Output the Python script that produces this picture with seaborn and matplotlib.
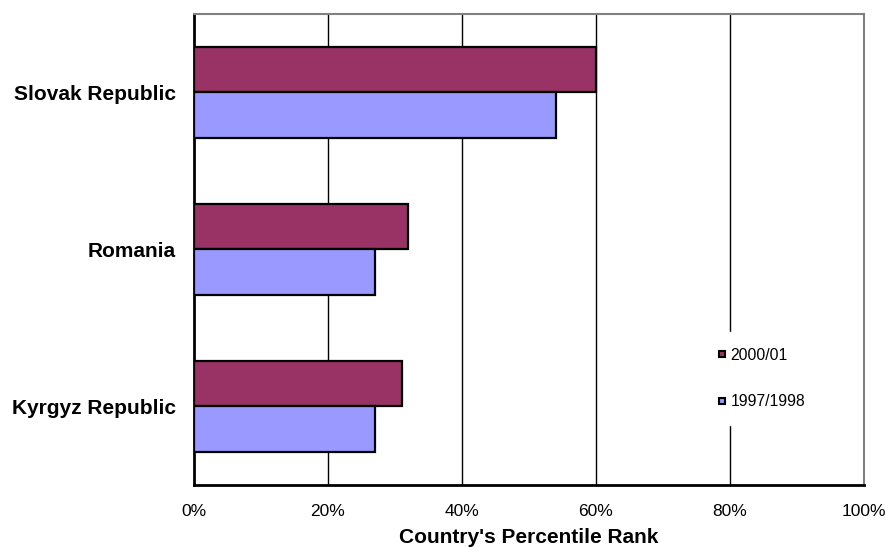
import matplotlib
matplotlib.use("Agg")
import matplotlib.pyplot as plt
from matplotlib.lines import Line2D
from matplotlib.ticker import PercentFormatter
import seaborn as sns
import pandas as pd

countries = ["Slovak Republic", "Romania", "Kyrgyz Republic"]
periods = ["2000/01", "1997/1998"]
rank_2000 = [60, 32, 31]
rank_1997 = [54, 27, 27]
period_colors = {"2000/01": "#993366", "1997/1998": "#9999FF"}

df = pd.DataFrame({
    "country": countries * 2,
    "period": [periods[0]] * 3 + [periods[1]] * 3,
    "rank": rank_2000 + rank_1997,
})

sns.set_style("white")
plt.rcParams["font.family"] = ["Liberation Sans", "DejaVu Sans"]
plt.rcParams["text.color"] = "black"
plt.rcParams["xtick.color"] = "black"
plt.rcParams["ytick.color"] = "black"
plt.rcParams["axes.labelcolor"] = "black"

fig = plt.figure(figsize=(8.87, 5.48), dpi=100)
ax = fig.add_axes([0.2187, 0.115, 0.974 - 0.2187, 0.9745 - 0.115])

sns.barplot(data=df, y="country", x="rank", hue="period", order=countries,
            hue_order=periods, palette=period_colors, orient="h", width=0.58,
            saturation=1, edgecolor="black", linewidth=1.6, ax=ax,
            legend=False, zorder=3)

ax.set_xlim(0, 100)
ax.set_xticks([0, 20, 40, 60, 80, 100])
ax.xaxis.set_major_formatter(PercentFormatter(decimals=0))
for x in [20, 40, 60, 80]:
    ax.axvline(x, color="black", linewidth=1.0, zorder=1)

ax.tick_params(axis="x", length=0, pad=14, labelsize=12.5)
ax.tick_params(axis="y", length=0, pad=13, labelsize=15)
for lbl in ax.get_yticklabels():
    lbl.set_fontweight("bold")

ax.set_ylabel("")
ax.set_xlabel("Country's Percentile Rank", fontsize=15, fontweight="bold", labelpad=6.5)

for side in ["left", "bottom"]:
    ax.spines[side].set_color("black")
    ax.spines[side].set_linewidth(2)
for side in ["top", "right"]:
    ax.spines[side].set_color("#808080")
    ax.spines[side].set_linewidth(1.5)

handles = [Line2D([0], [0], marker="s", linestyle="none", markersize=5,
                  markerfacecolor=period_colors[p], markeredgecolor="black",
                  markeredgewidth=1.5) for p in periods]
leg = ax.legend(handles, periods, loc="center left", bbox_to_anchor=(0.7455, 0.226),
                frameon=True, fontsize=11.3, handlelength=0.6, handletextpad=0.25,
                labelspacing=2.0, borderpad=1.0)
leg.get_frame().set_facecolor("white")
leg.get_frame().set_edgecolor("white")
leg.get_frame().set_alpha(1)
leg.get_frame().set_boxstyle("square", pad=0)

fig.savefig("out.png", dpi=100)
